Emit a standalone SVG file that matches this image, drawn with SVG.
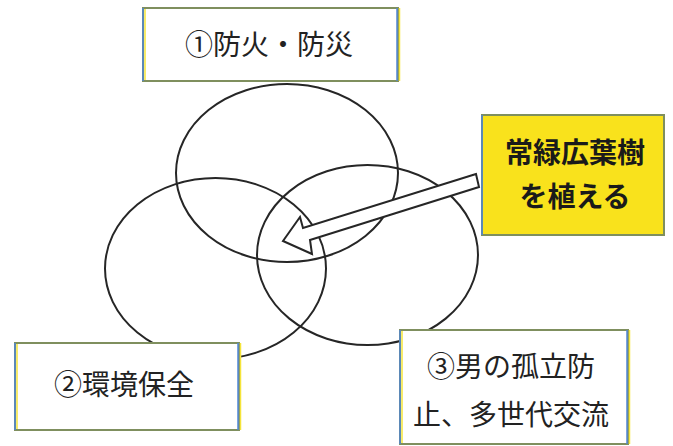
<svg xmlns="http://www.w3.org/2000/svg" width="673" height="446" viewBox="0 0 673 446">
<defs>
<style>
.ell{fill:none;stroke:#262626;stroke-width:2}
.box{fill:#ffffff;stroke:#7f8f5e;stroke-width:2}
.ybox{fill:#f9e21c;stroke:#7f8f5e;stroke-width:2}
.blue{stroke:#4f86d6;stroke-width:1.5}
.yel{stroke:#f5e43a;stroke-width:1.5}
.t{font-family:"Noto Sans CJK JP","Noto Sans CJK SC",sans-serif;font-size:28px;fill:#222;text-anchor:middle}
.tb{font-family:"Noto Sans CJK JP","Noto Sans CJK SC",sans-serif;font-size:28px;font-weight:bold;fill:#1a1a1a;text-anchor:middle}
.arrow{fill:#ffffff;stroke:#262626;stroke-width:2;stroke-linejoin:miter}
</style>
</defs>
<rect width="673" height="446" fill="#ffffff"/>
<g id="circles">
<ellipse class="ell" cx="287" cy="173" rx="111" ry="89"/>
<ellipse class="ell" cx="215.5" cy="268.5" rx="110.5" ry="90.5"/>
<ellipse class="ell" cx="367.5" cy="255" rx="110.5" ry="90"/>
</g>
<g id="connectors">
<polygon class="arrow" points="476,174 303,228 300,217 283,241 312,254 310,240 479,187"/>
</g>
<g id="node1">
<rect class="box" x="143" y="8" width="255" height="73"/>
<line class="blue" x1="143" y1="8" x2="143" y2="81"/>
<line class="yel" x1="145" y1="9" x2="145" y2="80"/>
<line class="blue" x1="397" y1="8" x2="397" y2="81"/>
<line class="yel" x1="399.5" y1="8" x2="399.5" y2="81"/>
<text class="t" x="269" y="55">①防火・防災</text>
</g>
<g id="node2">
<rect class="box" x="15" y="343" width="224" height="87"/>
<line class="blue" x1="15" y1="343" x2="15" y2="430"/>
<line class="yel" x1="17" y1="344" x2="17" y2="429"/>
<line class="blue" x1="238" y1="343" x2="238" y2="430"/>
<line class="yel" x1="240.5" y1="343" x2="240.5" y2="430"/>
<text class="t" x="124" y="395">②環境保全</text>
</g>
<g id="node3">
<rect class="box" x="400" y="330" width="228" height="114"/>
<line class="blue" x1="400" y1="330" x2="400" y2="444"/>
<line class="yel" x1="402" y1="331" x2="402" y2="443"/>
<line class="blue" x1="627" y1="330" x2="627" y2="444"/>
<line class="yel" x1="629.5" y1="330" x2="629.5" y2="444"/>
<text class="t" x="511" y="377">③男の孤立防</text>
<text class="t" x="511" y="425">止、多世代交流</text>
</g>
<g id="node4">
<rect class="ybox" x="482" y="115" width="182" height="120"/>
<line class="blue" x1="482" y1="115" x2="482" y2="235"/>
<text class="tb" x="575" y="163">常緑広葉樹</text>
<text class="tb" x="575" y="207">を植える</text>
</g>
</svg>
